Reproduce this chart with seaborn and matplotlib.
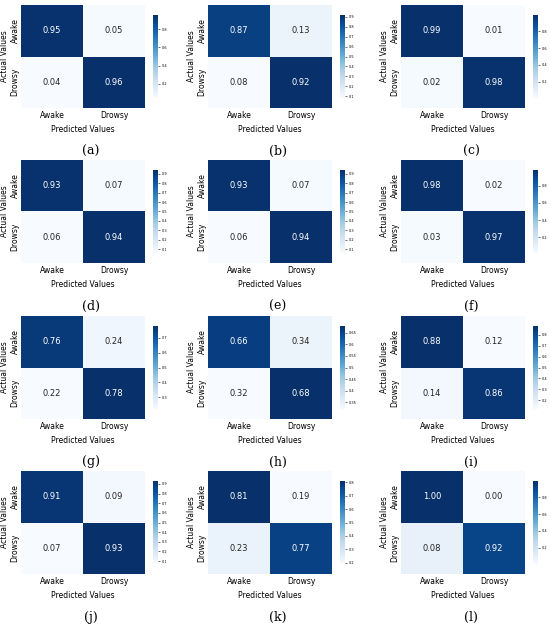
import numpy as np
import pandas as pd
import matplotlib
matplotlib.use("Agg")
import matplotlib.pyplot as plt
import seaborn as sns

classes = ["Awake", "Drowsy"]
panel_labels = ["(a)", "(b)", "(c)", "(d)", "(e)", "(f)", "(g)", "(h)", "(i)", "(j)", "(k)", "(l)"]
cm_a = [[0.95, 0.05], [0.04, 0.96]]
cm_b = [[0.87, 0.13], [0.08, 0.92]]
cm_c = [[0.99, 0.01], [0.02, 0.98]]
cm_d = [[0.93, 0.07], [0.06, 0.94]]
cm_e = [[0.93, 0.07], [0.06, 0.94]]
cm_f = [[0.98, 0.02], [0.03, 0.97]]
cm_g = [[0.76, 0.24], [0.22, 0.78]]
cm_h = [[0.66, 0.34], [0.32, 0.68]]
cm_i = [[0.88, 0.12], [0.14, 0.86]]
cm_j = [[0.91, 0.09], [0.07, 0.93]]
cm_k = [[0.81, 0.19], [0.23, 0.77]]
cm_l = [[0.996, 0.004], [0.08, 0.92]]
matrices = [cm_a, cm_b, cm_c, cm_d, cm_e, cm_f, cm_g, cm_h, cm_i, cm_j, cm_k, cm_l]

W, H = 550, 627
fig = plt.figure(figsize=(W / 100, H / 100), dpi=100)

col_left = [21, 208, 401]
row_top = [5, 160, 316, 471]
hw, hh = 124, 103

def px_axes(x, y, w, h):
    return fig.add_axes([x / W, 1 - (y + h) / H, w / W, h / H])

for idx, (cm, lab) in enumerate(zip(matrices, panel_labels)):
    r, c = divmod(idx, 3)
    x0, y0 = col_left[c], row_top[r]
    ax = px_axes(x0, y0, hw, hh)
    cax = px_axes(x0 + hw + 8, y0 + 10, 5, hh - 20)
    df = pd.DataFrame(cm, index=classes, columns=classes)
    sns.heatmap(df, annot=True, fmt=".2f", cmap="Blues", ax=ax, cbar_ax=cax,
                annot_kws={"fontsize": 6})
    ax.set_xlabel("Predicted Values", fontsize=5.5, labelpad=4)
    ax.set_ylabel("Actual Values", fontsize=5.5, labelpad=1)
    ax.tick_params(axis="x", labelsize=5.5, length=0, pad=2)
    ax.tick_params(axis="y", labelsize=5.5, length=0, pad=1)
    cax.tick_params(labelsize=2.5, length=1.5, width=0.4, pad=1)
    cax.yaxis.set_major_formatter(matplotlib.ticker.FormatStrFormatter("%g"))
    fig.text((x0 + hw / 2 + 8) / W, 1 - (y0 + 146) / H, lab,
             ha="center", va="center", fontsize=9, family="DejaVu Serif")

fig.savefig("out.png", dpi=100)
